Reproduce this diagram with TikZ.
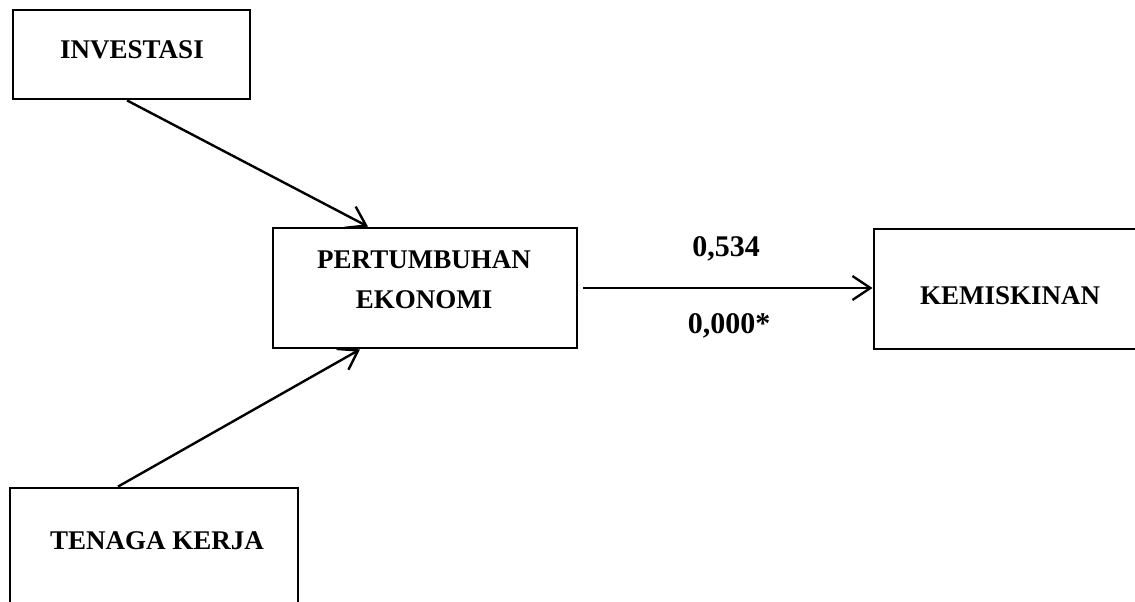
\documentclass[tikz,border=0pt]{standalone}
\usepackage{fontspec}
\setmainfont{Liberation Serif}
\usetikzlibrary{arrows.meta}
\begin{document}
\begin{tikzpicture}[x=1pt,y=-1pt,
  box/.style={draw,line width=2.8pt,inner sep=0pt},
  lbl/.style={font=\fontsize{27}{40}\selectfont\bfseries,inner sep=0pt,align=center},
  num/.style={font=\fontsize{30}{34}\selectfont\bfseries,inner sep=0pt},
  conn/.style={line width=2.4pt,-{Straight Barb[length=18pt,width=24pt]}}]
\useasboundingbox (0,0) rectangle (1135,602);
\clip (0,0) rectangle (1135,602);
\fill[white] (0,0) rectangle (1135,602);
% boxes
\node[box,minimum width=237pt,minimum height=89pt] (inv) at (131.5,54.5) {};
\node[box,minimum width=304pt,minimum height=120pt] (pe) at (425,288) {};
\node[box,minimum width=276pt,minimum height=120pt] (kem) at (1012,289) {};
\node[box,minimum width=288pt,minimum height=127pt] (tk) at (154,551.5) {};
% texts
\node[lbl] (invt) at (132,50) {INVESTASI};
\node[lbl] (pet) at (424,280) {PERTUMBUHAN\\EKONOMI};
\node[lbl] (kemt) at (1010,296) {KEMISKINAN};
\node[lbl] (tkt) at (157,541) {TENAGA KERJA};
% connectors
\draw[conn] ([xshift=-4.5pt]inv.south) -- ([xshift=-57pt]pe.north);
\draw[conn] ([xshift=-36pt]tk.north) -- ([xshift=-65pt]pe.south);
\draw[conn] ([xshift=5pt]pe.east) -- (kem.west |- pe.east);
% labels
\node[num] (n1) at (726,249) {0,534};
\node[num] (n2) at (729,326) {0,000*};
\end{tikzpicture}
\end{document}
